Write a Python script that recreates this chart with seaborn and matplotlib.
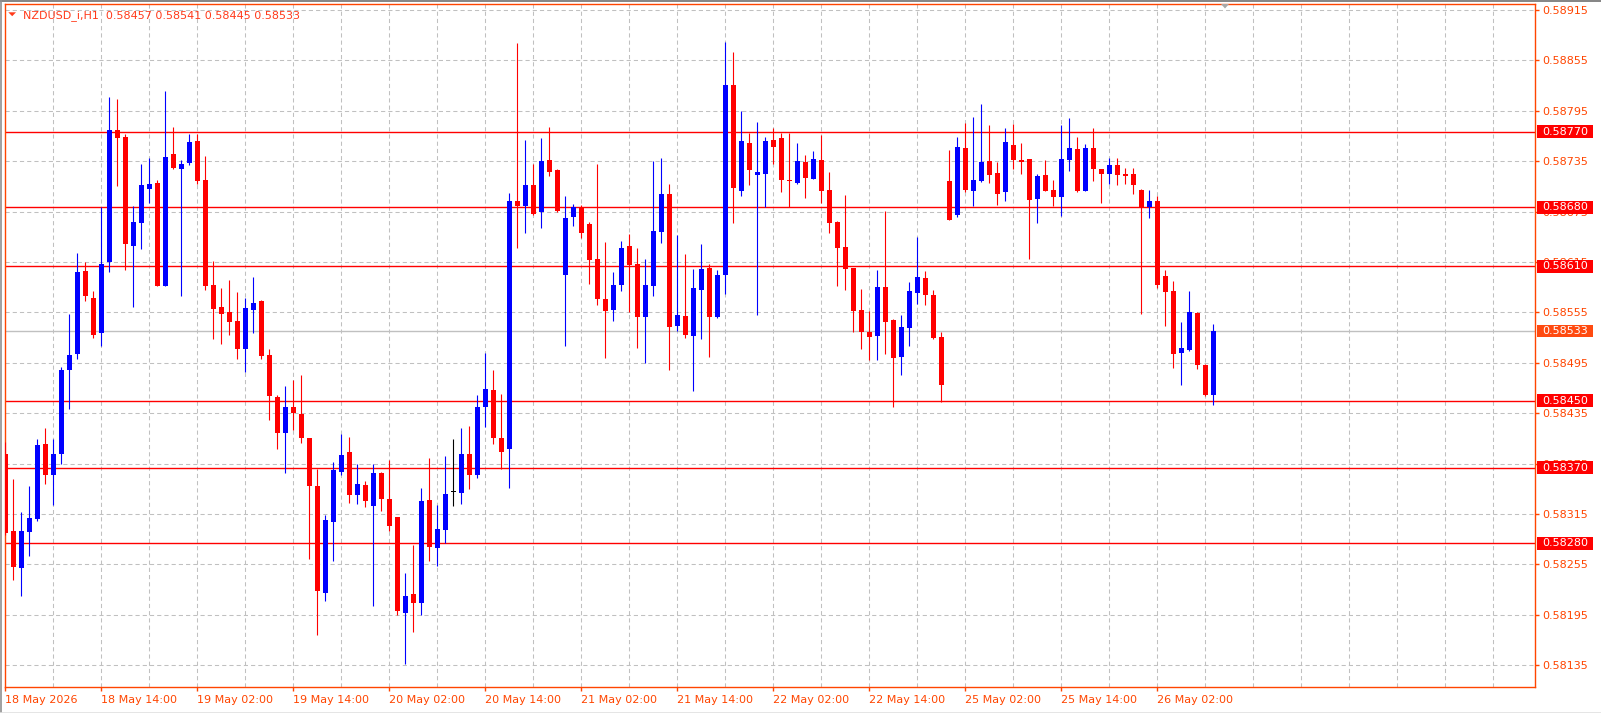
import matplotlib
matplotlib.use("Agg")
import matplotlib.pyplot as plt
import matplotlib.transforms as mtransforms
from matplotlib.patches import Rectangle, Polygon
from matplotlib.lines import Line2D
import seaborn as sns
import pandas as pd
import numpy as np

symbol = "NZDUSD_i,H1"

# hourly bars, 18 May 02:00 .. 26 May 09:00 (weekend skipped)
opens = [0.58386, 0.58295, 0.58251, 0.58293, 0.58309, 0.58398, 0.58362, 0.58387, 0.58486, 0.58505,
         0.58604, 0.58572, 0.58531, 0.58615, 0.58772, 0.58764, 0.58634, 0.58662, 0.58702, 0.58709,
         0.58587, 0.58744, 0.58726, 0.58733, 0.58759, 0.58713, 0.58588, 0.58561, 0.58555, 0.58545,
         0.58511, 0.58558, 0.58569, 0.58504, 0.58454, 0.58411, 0.58442, 0.58434, 0.58405, 0.58348,
         0.58221, 0.58306, 0.58365, 0.58389, 0.58338, 0.58350, 0.58324, 0.58364, 0.58333, 0.58311,
         0.58197, 0.58220, 0.58209, 0.58332, 0.58275, 0.58296, 0.58341, 0.58340, 0.58386, 0.58362,
         0.58442, 0.58463, 0.58406, 0.58392, 0.58688, 0.58682, 0.58707, 0.58674, 0.58736, 0.58725,
         0.58600, 0.58668, 0.58680, 0.58660, 0.58619, 0.58571, 0.58558, 0.58588, 0.58634, 0.58613,
         0.58549, 0.58586, 0.58651, 0.58696, 0.58539, 0.58551, 0.58527, 0.58582, 0.58608, 0.58550,
         0.58599, 0.58826, 0.58699, 0.58757, 0.58719, 0.58720, 0.58760, 0.58763, 0.58712, 0.58709,
         0.58734, 0.58714, 0.58736, 0.58701, 0.58663, 0.58633, 0.58608, 0.58558, 0.58532, 0.58527,
         0.58585, 0.58546, 0.58502, 0.58536, 0.58578, 0.58596, 0.58576, 0.58526, 0.58711, 0.58671,
         0.58751, 0.58700, 0.58711, 0.58735, 0.58721, 0.58698, 0.58754, 0.58736, 0.58738, 0.58690,
         0.58719, 0.58701, 0.58692, 0.58736, 0.58750, 0.58700, 0.58751, 0.58726, 0.58720, 0.58730,
         0.58720, 0.58720, 0.58701, 0.58680, 0.58688, 0.58598, 0.58580, 0.58507, 0.58510, 0.58554,
         0.58492, 0.58457]
highs = [0.58401, 0.58357, 0.58317, 0.58348, 0.58404, 0.58417, 0.58404, 0.58490, 0.58553, 0.58626,
         0.58615, 0.58580, 0.58680, 0.58812, 0.58809, 0.58767, 0.58682, 0.58732, 0.58739, 0.58713,
         0.58819, 0.58776, 0.58736, 0.58767, 0.58767, 0.58741, 0.58616, 0.58584, 0.58594, 0.58579,
         0.58572, 0.58597, 0.58570, 0.58512, 0.58457, 0.58467, 0.58475, 0.58480, 0.58406, 0.58369,
         0.58314, 0.58377, 0.58410, 0.58407, 0.58375, 0.58354, 0.58375, 0.58365, 0.58379, 0.58312,
         0.58245, 0.58278, 0.58346, 0.58382, 0.58326, 0.58384, 0.58404, 0.58417, 0.58420, 0.58457,
         0.58507, 0.58486, 0.58458, 0.58697, 0.58876, 0.58760, 0.58732, 0.58763, 0.58776, 0.58726,
         0.58694, 0.58684, 0.58683, 0.58663, 0.58732, 0.58639, 0.58603, 0.58640, 0.58648, 0.58632,
         0.58619, 0.58735, 0.58739, 0.58708, 0.58647, 0.58625, 0.58607, 0.58636, 0.58613, 0.58605,
         0.58877, 0.58865, 0.58795, 0.58769, 0.58782, 0.58764, 0.58775, 0.58768, 0.58769, 0.58757,
         0.58742, 0.58747, 0.58766, 0.58722, 0.58664, 0.58695, 0.58608, 0.58583, 0.58557, 0.58605,
         0.58676, 0.58547, 0.58552, 0.58591, 0.58645, 0.58604, 0.58582, 0.58532, 0.58748, 0.58764,
         0.58780, 0.58788, 0.58803, 0.58778, 0.58734, 0.58775, 0.58779, 0.58757, 0.58738, 0.58720,
         0.58736, 0.58713, 0.58778, 0.58786, 0.58764, 0.58755, 0.58775, 0.58726, 0.58739, 0.58739,
         0.58727, 0.58727, 0.58702, 0.58701, 0.58694, 0.58605, 0.58592, 0.58544, 0.58580, 0.58555,
         0.58494, 0.58541]
lows = [0.58290, 0.58236, 0.58217, 0.58265, 0.58307, 0.58351, 0.58326, 0.58375, 0.58440, 0.58500,
        0.58569, 0.58525, 0.58515, 0.58603, 0.58706, 0.58605, 0.58562, 0.58631, 0.58685, 0.58586,
        0.58586, 0.58726, 0.58575, 0.58731, 0.58708, 0.58582, 0.58523, 0.58517, 0.58528, 0.58499,
        0.58484, 0.58531, 0.58500, 0.58427, 0.58392, 0.58364, 0.58415, 0.58400, 0.58261, 0.58171,
        0.58212, 0.58259, 0.58361, 0.58328, 0.58327, 0.58323, 0.58206, 0.58319, 0.58295, 0.58195,
        0.58137, 0.58175, 0.58195, 0.58259, 0.58253, 0.58281, 0.58325, 0.58327, 0.58345, 0.58358,
        0.58419, 0.58398, 0.58369, 0.58346, 0.58632, 0.58649, 0.58671, 0.58655, 0.58717, 0.58675,
        0.58515, 0.58658, 0.58643, 0.58589, 0.58564, 0.58501, 0.58545, 0.58580, 0.58556, 0.58513,
        0.58495, 0.58575, 0.58638, 0.58486, 0.58533, 0.58524, 0.58461, 0.58523, 0.58502, 0.58548,
        0.58577, 0.58662, 0.58693, 0.58707, 0.58552, 0.58680, 0.58732, 0.58698, 0.58680, 0.58708,
        0.58691, 0.58714, 0.58685, 0.58650, 0.58587, 0.58582, 0.58532, 0.58512, 0.58498, 0.58498,
        0.58506, 0.58442, 0.58481, 0.58515, 0.58565, 0.58564, 0.58523, 0.58448, 0.58665, 0.58668,
        0.58698, 0.58682, 0.58710, 0.58709, 0.58683, 0.58688, 0.58726, 0.58720, 0.58619, 0.58662,
        0.58700, 0.58682, 0.58670, 0.58723, 0.58698, 0.58699, 0.58711, 0.58685, 0.58708, 0.58707,
        0.58708, 0.58696, 0.58553, 0.58667, 0.58584, 0.58539, 0.58489, 0.58469, 0.58509, 0.58488,
        0.58455, 0.58445]
closes = [0.58292, 0.58252, 0.58295, 0.58310, 0.58397, 0.58361, 0.58386, 0.58486, 0.58504, 0.58603,
          0.58574, 0.58528, 0.58613, 0.58772, 0.58763, 0.58636, 0.58663, 0.58707, 0.58708, 0.58587,
          0.58740, 0.58727, 0.58732, 0.58758, 0.58711, 0.58587, 0.58559, 0.58553, 0.58543, 0.58512,
          0.58560, 0.58566, 0.58503, 0.58455, 0.58411, 0.58442, 0.58435, 0.58406, 0.58348, 0.58223,
          0.58308, 0.58367, 0.58385, 0.58338, 0.58351, 0.58330, 0.58364, 0.58333, 0.58301, 0.58200,
          0.58217, 0.58209, 0.58330, 0.58276, 0.58297, 0.58339, 0.58341, 0.58386, 0.58361, 0.58442,
          0.58464, 0.58406, 0.58389, 0.58688, 0.58682, 0.58707, 0.58672, 0.58735, 0.58722, 0.58676,
          0.58667, 0.58680, 0.58650, 0.58617, 0.58571, 0.58557, 0.58588, 0.58632, 0.58612, 0.58550,
          0.58588, 0.58652, 0.58696, 0.58538, 0.58552, 0.58528, 0.58584, 0.58607, 0.58550, 0.58600,
          0.58826, 0.58703, 0.58759, 0.58725, 0.58722, 0.58759, 0.58752, 0.58713, 0.58711, 0.58735,
          0.58715, 0.58738, 0.58700, 0.58662, 0.58632, 0.58607, 0.58557, 0.58532, 0.58526, 0.58585,
          0.58544, 0.58501, 0.58538, 0.58580, 0.58597, 0.58576, 0.58524, 0.58468, 0.58665, 0.58752,
          0.58701, 0.58713, 0.58734, 0.58719, 0.58696, 0.58758, 0.58736, 0.58734, 0.58689, 0.58717,
          0.58700, 0.58692, 0.58738, 0.58751, 0.58700, 0.58751, 0.58726, 0.58720, 0.58730, 0.58719,
          0.58717, 0.58707, 0.58680, 0.58688, 0.58588, 0.58579, 0.58505, 0.58513, 0.58555, 0.58492,
          0.58457, 0.58533]

time_bars = [0, 12, 24, 36, 48, 60, 72, 84, 96, 108, 120, 132, 144]
time_labels = ["18 May 2026", "18 May 14:00", "19 May 02:00", "19 May 14:00", "20 May 02:00",
               "20 May 14:00", "21 May 02:00", "21 May 14:00", "22 May 02:00", "22 May 14:00",
               "25 May 02:00", "25 May 14:00", "26 May 02:00"]
price_ticks = [0.58915, 0.58855, 0.58795, 0.58735, 0.58675, 0.58615, 0.58555,
               0.58495, 0.58435, 0.58375, 0.58315, 0.58255, 0.58195, 0.58135]
levels = [0.58770, 0.58680, 0.58610, 0.58450, 0.58370, 0.58280]
bid = 0.58533

W, H = 1601, 713
ORANGE = '#FF4500'
BULL = '#0000FF'
BEAR = '#FF0000'
GRID = '#C0C0C0'

sns.set_theme(style="white")
plt.rcParams['font.family'] = ['DejaVu Sans']
plt.rcParams['lines.scale_dashes'] = False

df = pd.DataFrame({'open': opens, 'high': highs, 'low': lows, 'close': closes})
df['bar'] = np.arange(len(df))
df['color'] = np.where(df.close > df.open, BULL, np.where(df.close < df.open, BEAR, '#000000'))
df['bottom'] = df[['open', 'close']].min(axis=1)
df['height'] = (df.close - df.open).abs().clip(lower=0.000013)

fig = plt.figure(figsize=(W / 100, H / 100), dpi=100)
ax = fig.add_axes([4.7 / W, (H - 687) / H, (1535 - 4.7) / W, (687 - 4) / H])
ax.set_xlim(-0.075, 191.21)
ax.set_ylim(0.5810905, 0.5892214)

# grid
for p in price_ticks:
    ax.axhline(p, color=GRID, lw=0.75, ls=(0, (3, 2.2)), zorder=1)
for b in range(6, 192, 6):
    ax.axvline(b, color=GRID, lw=0.75, ls=(0, (3, 2.2)), zorder=1)

# levels and bid line
for lv in levels:
    ax.axhline(lv, color=BEAR, lw=1.0, zorder=2)
ax.axhline(bid, color=GRID, lw=1.0, zorder=2)

# candles
ax.vlines(df.bar, df.low, df.high, colors=df.color, lw=0.8, zorder=3)
ax.bar(df.bar, df.height, bottom=df.bottom, width=0.6, color=df.color, lw=0, zorder=4)

for s in ax.spines.values():
    s.set_color(ORANGE)
    s.set_linewidth(1.0)

ax.yaxis.tick_right()
ax.set_yticks(price_ticks)
ax.set_yticklabels([f"{p:.5f}" for p in price_ticks])
ax.set_xticks(time_bars)
ax.set_xticklabels(time_labels, ha='left')
ax.tick_params(axis='y', right=True, left=False, colors=ORANGE, length=3, width=1,
               pad=2.5, labelsize=8, direction='out')
ax.tick_params(axis='x', bottom=True, colors=ORANGE, length=3, width=1,
               pad=2.5, labelsize=8, direction='out')

# price boxes on the right axis
trans = mtransforms.blended_transform_factory(fig.transFigure, ax.transData)
box_h = 12.7 / 84000
for lv, fc in [(v, '#FF0000') for v in levels] + [(bid, '#FF4A10')]:
    ax.add_patch(Rectangle((1536.7 / W, lv - box_h / 2), 56 / W, box_h, transform=trans,
                           fc=fc, ec='none', clip_on=False, zorder=5))
    ax.text(1542.3 / W, lv, f"{lv:.5f}", transform=trans, color='white', fontsize=8,
            va='center', ha='left', zorder=6, clip_on=False)

# header
fig.text(22.7 / W, 1 - 18.3 / H,
         f"{symbol}  {opens[-1]:.5f} {highs[-1]:.5f} {lows[-1]:.5f} {closes[-1]:.5f}",
         color='#FF3A1A', fontsize=8, ha='left', va='baseline')
fig.add_artist(Polygon([(8.3 / W, 1 - 12.3 / H), (16 / W, 1 - 12.3 / H), (12.2 / W, 1 - 16.2 / H)],
                       closed=True, transform=fig.transFigure, fc='#FF3A1A', ec='none'))
fig.add_artist(Polygon([(1221 / W, 1 - 4 / H), (1229 / W, 1 - 4 / H), (1225 / W, 1 - 8.5 / H)],
                       closed=True, transform=fig.transFigure, fc='#A8A8A8', ec='none'))

# window border
fig.add_artist(Line2D([0, 1], [1 - 0.5 / H, 1 - 0.5 / H], transform=fig.transFigure, color='#707070', lw=1.2))
fig.add_artist(Line2D([0.5 / W, 0.5 / W], [0, 1], transform=fig.transFigure, color='#909090', lw=1.2))
fig.add_artist(Line2D([0, 1], [0.5 / H, 0.5 / H], transform=fig.transFigure, color='#E0E0E0', lw=1.2))

fig.savefig("out.png", dpi=100, facecolor='white')
